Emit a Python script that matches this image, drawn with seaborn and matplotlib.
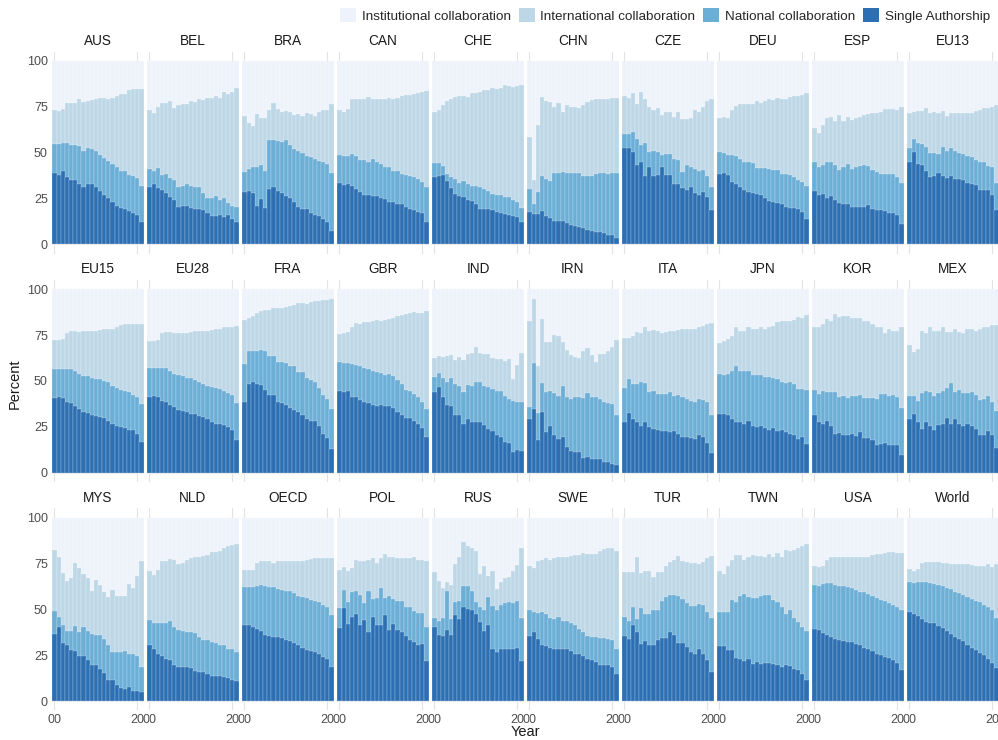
import pandas as pd
import seaborn as sns
import matplotlib
matplotlib.use("Agg")
import matplotlib.pyplot as plt
from matplotlib.patches import Patch

years = list(range(2000, 2022))
tick_years = [2000, 2020]

countries = ["AUS", "BEL", "BRA", "CAN", "CHE", "CHN", "CZE", "DEU", "ESP", "EU13",
             "EU15", "EU28", "FRA", "GBR", "IND", "IRN", "ITA", "JPN", "KOR", "MEX",
             "MYS", "NLD", "OECD", "POL", "RUS", "SWE", "TUR", "TWN", "USA", "World"]

categories = ["Institutional collaboration", "International collaboration",
              "National collaboration", "Single Authorship"]
colors = ["#eef3fb", "#bdd7e7", "#6baed6", "#2c6fb2"]

# share of single-authored papers (top of the dark segment)
single = {
    "AUS": [39, 38, 40, 36.5, 35, 35, 33, 31.5, 33, 33, 31, 29, 27, 25, 23, 21, 20, 19, 18, 17, 16, 12],
    "BEL": [31, 33, 30.5, 29.5, 28, 26, 24, 20.5, 21, 21, 20, 19.5, 19, 18.5, 17, 15.5, 15.5, 16, 15, 16, 14, 12],
    "BRA": [28.5, 29, 28, 21, 24.5, 20, 30, 31.5, 29, 28, 26.5, 25, 23, 20.5, 19.5, 19, 17, 16, 15.5, 14, 12, 7.5],
    "CAN": [33.5, 32.5, 33, 32, 30, 28.5, 27, 27, 26.5, 26.5, 25.5, 24.5, 23, 23, 22, 22, 20.5, 19.5, 18.5, 17.5, 17, 12],
    "CHE": [36.5, 37.5, 38, 34.5, 30.5, 27.5, 26.5, 26, 24, 23.5, 22, 19.5, 19, 19, 18.5, 17.5, 17, 16.5, 16, 15.5, 15, 12],
    "CHN": [17.5, 16.5, 16.5, 18, 15.5, 14.5, 13, 12.5, 13, 11.5, 10.5, 10, 9.5, 9, 8, 7.5, 6.5, 6.5, 6, 5, 5, 3.5],
    "CZE": [52.5, 52.5, 50.5, 43, 45, 37, 42, 37.5, 38, 42, 38, 38, 33, 33, 30.5, 29.5, 31, 28, 27, 28.5, 26, 18.5],
    "DEU": [38.3, 39, 37.7, 34, 32.8, 31.3, 29.5, 28.6, 28, 27.3, 26.8, 25.5, 23.7, 23.1, 22.6, 21.9, 20.4, 20, 20, 19, 17.7, 14],
    "ESP": [29.1, 26.8, 27.7, 25.5, 26.2, 24.4, 22.6, 22.2, 21.9, 20.4, 20.4, 20.4, 20.4, 21.3, 19.5, 18.6, 18.6, 18.2, 17.1, 17.1, 15.8, 10.9],
    "EU13": [45, 50.5, 44, 43.2, 40, 36.8, 37.2, 39, 37.2, 36.4, 37.2, 35.9, 35.9, 35.3, 33.2, 32.8, 32.2, 29.9, 29.9, 29.5, 26.8, 18.6],
    "EU15": [40.5, 41, 40.5, 38.5, 38, 36.5, 34.5, 33, 32.5, 31.5, 31, 30.5, 30, 28, 26.5, 25.5, 25, 24.5, 23.5, 23, 21, 16.5],
    "EU28": [41.1, 42, 41.1, 39.3, 38.8, 37, 35.7, 34.4, 33.9, 33, 32.1, 32.1, 30.8, 30.3, 29, 27.5, 26.6, 26.6, 26.1, 24.8, 23, 17.6],
    "FRA": [38.4, 48.4, 49.6, 48.4, 47.8, 45.3, 42.4, 42.4, 38.4, 38, 37, 35.1, 34.4, 33, 31.2, 29.3, 28.4, 28.4, 25.7, 21.2, 18.8, 13],
    "GBR": [44.7, 43.8, 44.7, 41.1, 41.1, 39.9, 38.8, 38, 37, 36.6, 37, 36.2, 36.6, 35.1, 33, 31.5, 29.7, 29.7, 28.4, 26.6, 24.3, 19.4],
    "IND": [43.8, 46.6, 41.1, 37, 36.2, 31.5, 31.2, 26.6, 29, 27.5, 27.5, 27.5, 26.1, 23.9, 22.5, 20.3, 19.4, 17, 16.3, 11.2, 12.1, 11.6],
    "IRN": [29, 34.8, 17.6, 33.3, 22.1, 25.7, 20.3, 18.1, 19.4, 13.9, 11.6, 11.2, 11.2, 8, 8.5, 7.2, 7.2, 7.2, 5.8, 5.8, 4.9, 4.3],
    "ITA": [27.9, 32.6, 29.3, 27.5, 25.7, 27.9, 24.8, 23.9, 23, 22.5, 22.5, 22.1, 22.5, 21.2, 19.4, 19.4, 18.8, 18.1, 20.3, 19.4, 16.3, 10.9],
    "JPN": [32.1, 32.1, 31.2, 29.3, 27.9, 27.9, 26.6, 28.4, 25.4, 24.8, 25.4, 24.3, 23, 24.3, 22.5, 23, 22.1, 21.2, 20.7, 18.1, 19.4, 15.8],
    "KOR": [31.5, 27.5, 26.6, 28.4, 25.7, 21.2, 21.7, 20.7, 20.7, 21.2, 19.9, 22.1, 18.8, 18.8, 17.6, 15.2, 15.8, 16.3, 15.2, 15.2, 14.9, 9.8],
    "MEX": [29, 32.1, 27.5, 23.9, 27.9, 25.4, 23, 26.1, 26.6, 29.7, 26.6, 29, 26.6, 25.7, 26.6, 25.7, 23.9, 20.3, 20.3, 22.5, 20.3, 13.4],
    "MYS": [36.6, 40.2, 31.5, 30.3, 27.9, 27.5, 24.8, 24.8, 22.5, 19.4, 19.4, 17.6, 15.2, 11.6, 11.2, 8.5, 7.2, 6.7, 7.6, 5.4, 5.4, 4.9],
    "NLD": [30.3, 28.4, 25.7, 24.8, 23, 22.1, 19.9, 18.8, 18.8, 18.8, 18.1, 16.3, 15.8, 15.8, 14.9, 13.9, 13.9, 13.9, 13, 12.7, 11.2, 10.9],
    "OECD": [41.7, 41.7, 40.6, 39.3, 38, 36.2, 35.7, 35.1, 34.8, 34.4, 33.3, 32.6, 31.5, 30.3, 29, 27.9, 27.5, 26.6, 25.4, 23.9, 23, 18.5],
    "POL": [39.9, 50.7, 42, 46, 47.5, 41.7, 44.2, 37.5, 45.7, 41.7, 41.7, 47.1, 38.8, 42, 38.8, 37.5, 35.7, 33.3, 32.1, 30.8, 31.2, 21.7],
    "RUS": [40.3, 35.8, 35.4, 38.5, 36.2, 46.7, 44.5, 51.2, 50.3, 49.9, 47.6, 43, 38, 41.2, 28.6, 26.8, 28.2, 28.2, 28.2, 28.6, 28.9, 21.7],
    "SWE": [35.4, 37.6, 33.6, 30.7, 30, 28.9, 28.2, 28.6, 28.6, 28.2, 27.1, 25.9, 25.9, 24.6, 23.1, 22.2, 21.3, 19.9, 19.9, 19.5, 18.6, 15],
    "TUR": [35.4, 33.6, 41.6, 37.6, 31.3, 32.5, 30.4, 30.4, 33.1, 34.4, 34.4, 37.6, 36.2, 31.8, 31.8, 29.5, 26.8, 25.9, 28.2, 25.9, 22.2, 15.9],
    "TWN": [30, 30, 27.7, 27.7, 23.5, 23.1, 21.7, 22.8, 20.4, 21.3, 20.4, 21, 21, 20.4, 19.5, 18.6, 19.5, 19.2, 17.4, 16.8, 15, 11.4],
    "USA": [39.1, 38.5, 37.3, 36.2, 34.9, 33.6, 33.1, 32.5, 32.2, 32.2, 31.3, 30.4, 28.9, 28.2, 27.1, 25.9, 25, 24, 23.5, 22.2, 21, 16.8],
    "World": [48.5, 47.6, 46.3, 44.8, 43, 42.7, 42.7, 40.9, 39.8, 38, 36.7, 34.9, 33.6, 32.5, 30.4, 28.9, 27.7, 26.4, 25, 23.1, 21, 18.1],
}

# single + national collaboration (top of the medium segment)
up_to_national = {
    "AUS": [54.5, 54.5, 55, 55, 54, 54, 53.5, 51, 52.5, 52, 51, 48.5, 47, 45.5, 44, 42, 40, 40, 38, 37, 36, 32],
    "BEL": [41, 40, 41.5, 38, 38.5, 36, 35, 31.5, 32, 33, 32, 31, 31.5, 28, 25.5, 25.5, 26.5, 24, 25.5, 22.5, 21, 20.5],
    "BRA": [39.5, 41, 42, 42, 43, 40, 57, 57, 56.5, 56, 57, 54, 52, 51, 50, 48, 47.5, 46.5, 45.5, 45, 44, 39],
    "CAN": [48.5, 48, 48, 49.5, 48, 46, 46, 45, 46.5, 45, 44, 42, 42, 40, 40, 38.5, 38, 37, 36.5, 35.5, 34, 31.5],
    "CHE": [44.5, 44.5, 42.5, 38.5, 36.5, 35.5, 33.5, 34.5, 33, 32, 32, 31.5, 30, 29, 27.5, 27, 27, 26, 26, 24, 23, 20],
    "CHN": [30, 22, 28.5, 37, 35.5, 34.5, 39, 39, 39.5, 39, 39, 39, 39, 37.5, 37, 37, 38.5, 39, 39, 38.5, 39, 39],
    "CZE": [60, 60, 61.5, 57.5, 54, 55, 50.5, 51, 50.5, 48.5, 49, 49, 46.5, 46, 39.5, 43, 42, 41, 40, 40.5, 37, 31],
    "DEU": [50.5, 50, 48.6, 48.6, 48, 46.3, 45, 45, 44.4, 41.9, 41.9, 41.9, 41.3, 40.4, 40.4, 38.6, 38.6, 37.7, 36.8, 35.3, 34, 31.7],
    "ESP": [45, 42.3, 43.2, 45, 45, 43.2, 40.4, 42.3, 44, 41.3, 42.3, 42.6, 43.2, 42.6, 40.4, 39.5, 38.6, 38.6, 38.6, 38.6, 36.8, 33.5],
    "EU13": [52.3, 57.7, 55, 54.6, 53.2, 50, 50, 49.5, 53.2, 51, 52.3, 51, 50, 49.5, 48, 47.4, 46, 45, 45, 42.6, 42.3, 33.5],
    "EU15": [56.5, 56.5, 56.5, 56.5, 56.5, 55.6, 53.8, 52.9, 52.5, 51.4, 51, 51, 50, 49.3, 47.1, 46, 45.3, 44.7, 44.2, 42.4, 41.1, 37.5],
    "EU28": [56.9, 56.9, 56.9, 56.9, 56.9, 55.6, 53.8, 53.3, 52.5, 51.4, 51.4, 50.7, 49.3, 48.4, 47.5, 46.6, 46, 45.7, 44.7, 43.5, 42.4, 38],
    "FRA": [59.2, 66.5, 66.5, 66.5, 66.8, 66.5, 63.8, 63.8, 60.5, 60.1, 59.8, 58.3, 58, 54.7, 54.7, 51.4, 50.7, 49.3, 46, 42.4, 40.2, 34.8],
    "GBR": [60.5, 59.8, 59.8, 59.2, 58.7, 58.3, 56.9, 56.5, 55.6, 55, 54.3, 53.3, 53.8, 52.5, 50.7, 48.4, 45.3, 44.7, 42.9, 41.1, 38.8, 34.8],
    "IND": [52, 54.3, 51.4, 49.3, 51.4, 48.4, 47.1, 44.2, 47.8, 47.5, 49.6, 49.3, 47.1, 46.6, 45.7, 44.7, 44.5, 42, 40, 39.3, 38.8, 38.8],
    "IRN": [35.7, 59.8, 32.6, 48.9, 43.8, 44.7, 43.5, 42, 47.5, 41.1, 40.2, 41.1, 41.1, 40.6, 43.5, 41.1, 41.1, 40.2, 38.4, 38, 37.5, 31.5],
    "ITA": [46, 51.1, 48.4, 48.4, 49.3, 48.9, 44.2, 44.7, 42.9, 42.9, 42.9, 43.8, 42, 42.4, 41.1, 40.2, 39.3, 38.4, 40.2, 39.9, 38.4, 31.5],
    "JPN": [53.8, 53.3, 53.8, 55.6, 58, 55.6, 55.6, 55.6, 53.3, 53.3, 53.3, 52, 52, 51.4, 51.1, 49.6, 48.9, 49.6, 48.4, 45.7, 45.7, 45.3],
    "KOR": [45.3, 42.9, 44.7, 44.2, 44.2, 43.8, 41.1, 41.7, 40.6, 42, 42, 42.4, 40.6, 40.6, 40.6, 40.2, 42.9, 42.9, 42, 42.4, 41.1, 35.1],
    "MEX": [41.7, 42, 39.3, 43.5, 44.7, 43.8, 42, 43.5, 44.7, 46, 48.9, 44.2, 45.3, 43.5, 43.5, 43.8, 42.4, 39.9, 40.2, 41.7, 38.8, 33.9],
    "MYS": [49.3, 46, 41.7, 38, 38.4, 41.1, 37.5, 40.6, 38.4, 36.6, 36.2, 36.2, 33.9, 30.8, 26.6, 26.6, 26.6, 27.2, 25.7, 25.4, 24.3, 18.5],
    "NLD": [44.2, 42.4, 42.4, 42.4, 42.4, 43.8, 40.2, 38.8, 38, 37.5, 37.5, 37, 35.1, 33.3, 33.3, 32.1, 31.5, 30.8, 30.8, 28.4, 28.4, 26.6],
    "OECD": [62.3, 62, 62, 62.9, 63.4, 62.9, 62.3, 62, 61.1, 60.5, 59.8, 59.8, 58.7, 57.4, 56.9, 56.2, 55.1, 54.3, 53.8, 52.5, 51.1, 47.1],
    "POL": [50.7, 60.5, 53.8, 59.2, 59.8, 58, 53.3, 59.8, 55.6, 56.2, 61.6, 56.2, 57.4, 55.6, 54.3, 54.3, 51.4, 51.4, 49.3, 47.8, 47.8, 40.6],
    "RUS": [45.2, 43.9, 45.2, 60, 44.8, 53.9, 54.8, 62.9, 62.9, 60.2, 53.9, 51.2, 49.4, 56.6, 51.7, 49.9, 52.4, 53.5, 53.9, 53.5, 54.8, 45],
    "SWE": [49.9, 48.8, 48.1, 48.5, 47.6, 45.2, 44.8, 45.8, 43.4, 43.4, 42.7, 41.6, 39.1, 37.6, 35.4, 34.9, 34.9, 34.4, 34.4, 34, 33.1, 28.6],
    "TUR": [45.8, 43.4, 51.2, 44.8, 50.6, 47.6, 47.6, 49.9, 49.9, 54.8, 56.6, 57.9, 57.9, 57.5, 55.7, 53.5, 51.7, 51.7, 53, 52.4, 48.5, 45.2],
    "TWN": [48.8, 48.8, 48.8, 55.3, 54.2, 57.1, 58.4, 56.6, 56.1, 56.1, 57.1, 57.9, 57.9, 55.3, 54.2, 51.2, 47.6, 49.9, 45.2, 43, 40.3, 38],
    "USA": [63.3, 62.9, 63.8, 64.4, 64.4, 63.3, 62.9, 62.6, 62, 61.5, 60.8, 59.7, 59.3, 58.4, 57.5, 56.1, 55.3, 54.8, 53.5, 52.4, 51.2, 49.4],
    "World": [65.1, 64.4, 64.7, 65.1, 64.7, 64.4, 63.8, 63.3, 62.6, 61.5, 61.1, 59.7, 59, 57.9, 56.6, 55.7, 54.8, 53.9, 52.4, 51.2, 49.4, 45.2],
}

# single + national + international (top of the light segment); institutional fills up to 100
up_to_international = {
    "AUS": [73, 72.5, 74, 77, 77, 77, 79, 77.5, 78, 78.5, 79.5, 80, 80, 79.5, 80, 81, 82, 82, 84, 84.5, 84.5, 84.5],
    "BEL": [73, 71.5, 75, 77, 77, 78, 74.5, 76, 76.5, 76.5, 78, 77.5, 79, 78.5, 80, 80, 81, 80, 83, 82, 83, 85],
    "BRA": [70, 66, 64.5, 71, 69, 69, 73, 77, 74, 72, 72.5, 72, 70.5, 71, 70, 71.5, 71, 70, 72, 73, 73, 76.5],
    "CAN": [73, 72, 74, 79, 79, 79, 79, 80.5, 79, 79, 79.5, 79.5, 80, 79.5, 80, 81, 81.5, 81.5, 82, 82.5, 83, 83.5],
    "CHE": [72, 73.5, 76, 78, 79.5, 80.5, 81, 81, 80.5, 82.5, 82.5, 83, 84, 84, 85, 84.5, 85.5, 87, 86.5, 86, 86.5, 87],
    "CHN": [58.5, 35, 65, 80.5, 78, 77.5, 75, 77, 72, 76, 75, 75, 74.5, 76, 77.5, 78.5, 79.5, 79.5, 79.5, 79.5, 80, 80],
    "CZE": [81, 80, 82.5, 76.5, 83, 79.5, 75, 73, 74.5, 70.5, 72, 72, 69.5, 72, 68.5, 68.5, 69, 73, 72, 75, 78, 79],
    "DEU": [68.7, 69.2, 68.7, 73.2, 75.4, 76.5, 76.5, 76.5, 76.5, 78.3, 77.2, 78.3, 79, 78.7, 79.6, 79.3, 79.3, 80.5, 81, 81, 81.2, 82.3],
    "ESP": [63.2, 60.5, 65, 68.7, 69.2, 67.4, 70.5, 67.4, 69.2, 68, 68.7, 69.6, 70.5, 71, 71.4, 71.8, 72.3, 73.6, 73.6, 73.6, 73.2, 74.7],
    "EU13": [71.4, 72.3, 72.9, 72.9, 74.1, 71.8, 72.3, 71.8, 72.9, 70, 71.8, 71.8, 71.4, 71.8, 71.8, 71.8, 72.9, 73.2, 74.1, 74.1, 75, 75.8],
    "EU15": [72.5, 72.5, 72.8, 76, 77.4, 77.4, 76.8, 77.4, 77.4, 77.4, 77.4, 77.9, 78.3, 78.6, 78.6, 79.2, 80.4, 81, 81, 81, 81, 81.3],
    "EU28": [72, 72, 72.5, 76, 76.8, 76.8, 76.4, 76.4, 76.4, 76.4, 76.8, 77, 77.4, 77.4, 77.4, 78, 78.3, 78.6, 79.7, 79.7, 79.7, 80],
    "FRA": [83.3, 84.6, 85.5, 87.3, 88.2, 88.8, 88.8, 90, 90, 90, 90.6, 90.9, 91.3, 92.4, 92.4, 91.8, 93.1, 93.7, 93.7, 94.2, 94.2, 94.9],
    "GBR": [75.5, 76, 76.8, 79.7, 81.5, 81, 82.2, 82.2, 82.8, 83.3, 82.8, 83.3, 84, 84.6, 85.5, 85.9, 86.4, 87, 87.7, 87.3, 87.3, 88.2],
    "IND": [62.3, 63.8, 62.9, 63.4, 64.1, 61.6, 62.9, 61.6, 64.7, 65.2, 68.8, 65.2, 64.7, 64.7, 62.3, 62, 62, 61, 62, 51, 58.5, 65.5],
    "IRN": [82.8, 94.9, 58, 84, 71.4, 71.4, 75, 74.3, 71.4, 67, 64.1, 62.9, 62.3, 66.5, 67.8, 64.1, 60.5, 64.7, 64.7, 66.5, 68.8, 72.5],
    "ITA": [73.2, 73.7, 74.6, 76.8, 76.1, 79.7, 77.4, 77.9, 77.4, 76.1, 76.8, 77.4, 77.4, 77.9, 78.3, 78.3, 78.6, 78.6, 79.7, 80.1, 81, 81.5],
    "JPN": [70.7, 71.9, 72.8, 74.6, 79.2, 77.4, 77.4, 79.2, 78.6, 78.6, 79.2, 78.6, 79.7, 80.1, 81.9, 82.8, 82.8, 82.8, 83.3, 85.1, 84.6, 85.9],
    "KOR": [79.2, 79.7, 81, 84, 82.8, 86.4, 85.1, 85.5, 85.5, 84.6, 84.6, 84.6, 82.8, 82.8, 81, 79.2, 79.2, 76.4, 78.6, 77.4, 77.4, 79.7],
    "MEX": [69.6, 65.6, 67.4, 77.4, 76.4, 79.7, 77.4, 77.4, 79.2, 76.8, 76.8, 78.3, 76.8, 76.1, 78.3, 78.6, 77.4, 78.6, 79.7, 79.7, 80.4, 80.4],
    "MYS": [82.2, 78.3, 69.6, 65.2, 67, 75.5, 72.8, 69.2, 67, 60.1, 65.9, 63.4, 59.2, 56.5, 60.5, 57.4, 57.4, 57.4, 63.8, 61.6, 68.3, 76.4],
    "NLD": [70.7, 68.8, 71.4, 76.1, 76.1, 77.4, 76.8, 74.6, 75.5, 76.8, 77.9, 78.3, 78.6, 79.2, 79.7, 81, 81.5, 81.9, 83.7, 84.6, 85.1, 85.5],
    "OECD": [71.4, 71.4, 71.4, 75.5, 76.1, 76.1, 76.1, 75.5, 76.1, 76.1, 76.1, 76.1, 76.4, 76.4, 76.4, 76.8, 77.2, 77.9, 77.9, 77.9, 77.9, 77.9],
    "POL": [71.4, 73.2, 71, 72.5, 76.8, 76.4, 76.4, 76.8, 77.9, 75.5, 77.9, 80.4, 78.6, 78.3, 77.9, 77.9, 77.9, 77.9, 78.3, 76.8, 76.8, 76.4],
    "RUS": [70.5, 65.6, 61.5, 65.1, 63.3, 74.7, 78.8, 86.8, 84.3, 83.2, 81.9, 69.3, 73.4, 68.4, 71.1, 61.1, 64.7, 66.9, 67.5, 71.1, 74.1, 83.2],
    "SWE": [73.4, 72.3, 76.5, 77, 77.8, 77, 77.8, 78.3, 78.8, 78.8, 79.2, 79.6, 79.6, 80.7, 80.1, 80.1, 80.1, 81.9, 82.8, 83.2, 83.2, 81.9],
    "TUR": [70.5, 70.5, 70.5, 78.3, 69.8, 71.1, 71.1, 67.5, 70.5, 70.2, 73.8, 75.9, 77, 79.2, 76.5, 75.6, 75.2, 75.2, 74.7, 75.9, 77.8, 79.2],
    "TWN": [71.1, 69.3, 73.8, 77, 79.6, 79.6, 77, 78.8, 79.6, 79.2, 79.2, 78.8, 80.1, 78.3, 80.7, 78.3, 82.5, 81.9, 82.5, 83.2, 84.6, 85.5],
    "USA": [73.4, 72.9, 73.4, 77, 78.3, 78.8, 78.8, 78.8, 78.8, 78.3, 78.3, 78.3, 78.3, 78.8, 79.6, 80.1, 80.1, 80.7, 81, 81, 80.7, 80.7],
    "World": [72, 71.1, 72, 75.2, 75.9, 75.9, 75.6, 75.6, 75.2, 75.2, 74.7, 74.7, 74.7, 74.7, 74.7, 74.1, 73.8, 73.8, 73.8, 74.7, 72.9, 74.7],
}

for c in countries:
    assert len(single[c]) == len(years), c
    assert len(up_to_national[c]) == len(years), c
    assert len(up_to_international[c]) == len(years), c

sns.set_theme(style="whitegrid")
plt.rcParams["font.family"] = ["Liberation Sans", "DejaVu Sans"]

fig, axes = plt.subplots(3, 10, figsize=(9.98, 7.4), dpi=100, sharey=True)
fig.subplots_adjust(left=0.0521, right=1.001, top=0.93, bottom=0.0403,
                    wspace=0.0326, hspace=0.132)

for i, (ax, c) in enumerate(zip(axes.flat, countries)):
    df = pd.DataFrame({
        "year": years,
        "institutional": 100.0,
        "international": up_to_international[c],
        "national": up_to_national[c],
        "single": single[c],
    })
    # overlay from the full bar down to the single-author share
    for col, color in zip(["institutional", "international", "national", "single"], colors):
        sns.barplot(data=df, x="year", y=col, color=color, saturation=1,
                    width=1.0, linewidth=0.35, edgecolor=(1, 1, 1, 0.45),
                    errorbar=None, ax=ax)
    ax.set_xlim(-0.6, len(years) - 0.4)
    ax.set_ylim(-5, 105)
    ax.set_yticks([0, 25, 50, 75, 100])
    ax.set_xticks([years.index(y) for y in tick_years])
    ax.set_xticklabels([f"{y % 100:02d}" for y in tick_years])
    ax.set_xlabel("")
    ax.set_ylabel("")
    ax.set_title(c, fontsize=9.8, pad=5, color="#1a1a1a")
    ax.set_facecolor("white")
    for s in ax.spines.values():
        s.set_visible(False)
    ax.grid(True, color="#e3e3e3", linewidth=0.8)
    ax.tick_params(length=0, labelsize=9, colors="#4d4d4d", pad=3)
    if i < 20:
        ax.tick_params(labelbottom=False)

handles = [Patch(facecolor=col, edgecolor="none", label=lab) for col, lab in zip(colors, categories)]
fig.legend(handles=handles, loc="upper right", bbox_to_anchor=(1.0, 1.0), ncol=4,
           frameon=False, fontsize=9.7, handlelength=1.2, handleheight=1.2,
           handletextpad=0.4, columnspacing=0.6, borderaxespad=0.2)

fig.text(0.015, 0.482, "Percent", rotation=90, ha="center", va="center", fontsize=10.5, color="#1a1a1a")
fig.text(0.526, 0.001, "Year", ha="center", va="bottom", fontsize=10.5, color="#1a1a1a")

fig.savefig("out.png", dpi=100)
